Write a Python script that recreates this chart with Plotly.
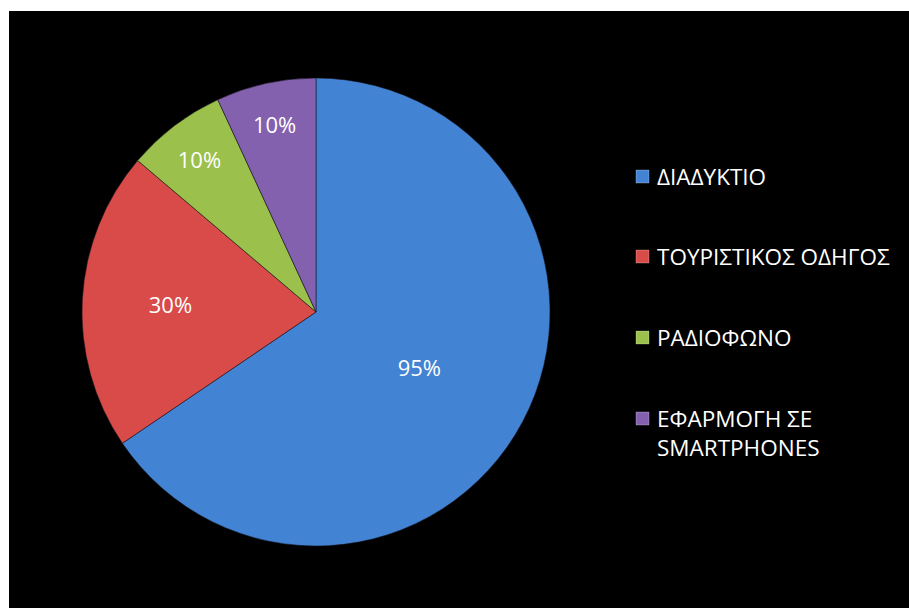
import plotly.graph_objects as go

# Survey answers and their shares (%)
categories = ["ΔΙΑΔΥΚΤΙΟ", "ΤΟΥΡΙΣΤΙΚΟΣ ΟΔΗΓΟΣ", "ΡΑΔΙΟΦΩΝΟ", "ΕΦΑΡΜΟΓΗ ΣΕ<br>SMARTPHONES"]
shares = [95, 30, 10, 10]
colors = ["#4383D4", "#D84B49", "#9BC04C", "#8461AF"]

W, H = 909, 608
FONT = "Open Sans"

fig = go.Figure()

fig.add_trace(go.Pie(
    labels=categories,
    values=shares,
    sort=False,
    direction="clockwise",
    rotation=0,
    marker=dict(colors=colors, line=dict(color="rgba(20,20,30,0.55)", width=1)),
    texttemplate="%{value}%",
    textposition="inside",
    insidetextorientation="horizontal",
    textfont=dict(family=FONT, size=22, color="white"),
    hoverinfo="label+value",
    showlegend=False,
    domain=dict(x=[(316 - 234) / W, (316 + 234) / W],
                y=[(296 - 234) / H, (296 + 234) / H]),
))

# black chart area inside a thin white border
fig.add_shape(type="rect", xref="paper", yref="paper",
              x0=9 / W, x1=1, y0=0, y1=1 - 11 / H,
              fillcolor="black", line_width=0, layer="below")

# legend: coloured squares with labels
legend_y = [176, 256, 337, 433]
for name, col, y in zip(categories, colors, legend_y):
    top_line_y = y if "<br>" not in name else y - 15
    fig.add_shape(type="rect", xref="paper", yref="paper",
                  x0=636 / W, x1=649 / W,
                  y0=1 - (top_line_y + 7) / H, y1=1 - (top_line_y - 6) / H,
                  fillcolor=col, line=dict(color="rgba(255,255,255,0.25)", width=1))
    fig.add_annotation(xref="paper", yref="paper", x=655 / W, y=1 - y / H,
                       xanchor="left", yanchor="middle", align="left",
                       text=name, showarrow=False,
                       font=dict(family=FONT, size=22.5, color="white"))

fig.update_layout(
    width=W, height=H,
    margin=dict(l=0, r=0, t=0, b=0, pad=0),
    paper_bgcolor="white",
    plot_bgcolor="black",
)

fig.write_html("out.html")
